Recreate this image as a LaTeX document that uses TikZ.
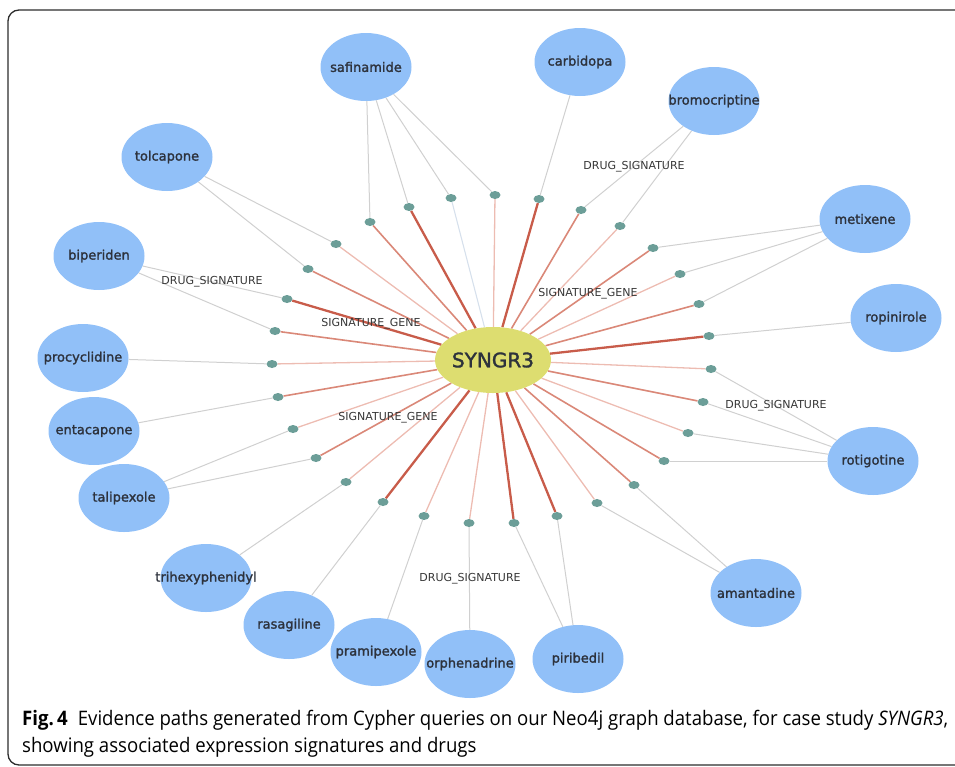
\documentclass[tikz,border=0pt]{standalone}
\usepackage{fontspec}
\usetikzlibrary{shapes.geometric,backgrounds}
\newfontfamily\drugfont[FakeBold=1.6]{DejaVu Sans}
\newfontfamily\labfont{DejaVu Sans}
\newfontfamily\capfont[FakeStretch=0.93]{Open Sans}
\definecolor{drugblue}{RGB}{145,192,248}
\definecolor{geneyellow}{RGB}{221,221,112}
\definecolor{dotteal}{RGB}{108,158,152}
\definecolor{drugtext}{RGB}{45,50,60}
\definecolor{labeltext}{RGB}{55,55,55}
\definecolor{linkgray}{RGB}{208,208,208}
\definecolor{sgthickc}{RGB}{200,92,74}
\definecolor{sgmedc}{RGB}{218,136,120}
\definecolor{sglightc}{RGB}{237,188,178}
\definecolor{sgpalec}{RGB}{214,224,236}
\definecolor{framec}{RGB}{45,45,45}
\tikzset{
  drug/.style={ellipse, fill=drugblue, minimum width=91pt, minimum height=68pt, inner sep=0pt,
    font=\drugfont\fontsize{13pt}{15pt}\selectfont, text=drugtext},
  gene/.style={ellipse, fill=geneyellow, minimum width=89pt, minimum height=66pt, inner sep=0pt,
    font=\drugfont\fontsize{20pt}{22pt}\selectfont, text=drugtext},
  sig/.style={ellipse, fill=dotteal, minimum width=11pt, minimum height=8pt, inner sep=0pt},
  dslink/.style={draw=linkgray, line width=1pt},
  sgthick/.style={draw=sgthickc, line width=2.3pt},
  sgmed/.style={draw=sgmedc, line width=1.6pt},
  sglight/.style={draw=sglightc, line width=1.3pt},
  sgpale/.style={draw=sgpalec, line width=1.1pt},
  elabel/.style={font=\labfont\fontsize{11pt}{13pt}\selectfont, text=labeltext, inner sep=0pt},
  caption/.style={font=\capfont\fontsize{20pt}{23pt}\selectfont, text=black, inner sep=0pt, anchor=base west}
}
\begin{document}
\begin{tikzpicture}[x=1pt, y=-1pt]
\useasboundingbox (0,0) rectangle (955,766);
\clip (0,0) rectangle (955,766);
\draw[framec, line width=1.3pt, rounded corners=11pt] (985,10) -- (8,10) -- (8,765) -- (985,765);

% gene
\node[gene] (syn) at (493,360) {SYNGR3};

% drugs
\node[drug] (saf) at (366,67) {\makebox[0pt]{safinamide}};
\node[drug] (carb) at (580,62) {\makebox[0pt]{carbidopa}};
\node[drug] (bro) at (714,101) {\makebox[0pt]{bromocriptine}};
\node[drug] (met) at (865,219) {\makebox[0pt]{metixene}};
\node[drug] (rop) at (896,318) {\makebox[0pt]{ropinirole}};
\node[drug] (rot) at (873,461) {\makebox[0pt]{rotigotine}};
\node[drug] (ama) at (756,593) {\makebox[0pt]{amantadine}};
\node[drug] (pir) at (578,659) {\makebox[0pt]{piribedil}};
\node[drug] (orp) at (470,664) {\makebox[0pt]{orphenadrine}};
\node[drug] (pra) at (376,652) {\makebox[0pt]{pramipexole}};
\node[drug] (ras) at (289,625) {\makebox[0pt]{rasagiline}};
\node[drug] (tri) at (206,578) {\makebox[0pt]{trihexyphenidyl}};
\node[drug] (tal) at (124,498) {\makebox[0pt]{talipexole}};
\node[drug] (ent) at (94,431) {\makebox[0pt]{entacapone}};
\node[drug] (pro) at (83,358) {\makebox[0pt]{procyclidine}};
\node[drug] (bip) at (99,256) {\makebox[0pt]{biperiden}};
\node[drug] (tol) at (167,157) {\makebox[0pt]{tolcapone}};

% signature dots
\node[sig] (d1) at (370,222) {};
\node[sig] (d2) at (409,207) {};
\node[sig] (d3) at (451,198) {};
\node[sig] (d4) at (495,195) {};
\node[sig] (d5) at (539,199) {};
\node[sig] (d6) at (581,210) {};
\node[sig] (d7) at (620,226) {};
\node[sig] (d8) at (653,248) {};
\node[sig] (d9) at (680,274) {};
\node[sig] (d10) at (699,304) {};
\node[sig] (d11) at (709,336) {};
\node[sig] (d12) at (711,369) {};
\node[sig] (d13) at (703,402) {};
\node[sig] (d14) at (688,433) {};
\node[sig] (d15) at (664,461) {};
\node[sig] (d16) at (634,485) {};
\node[sig] (d17) at (597,503) {};
\node[sig] (d18) at (557,516) {};
\node[sig] (d19) at (514,523) {};
\node[sig] (d20) at (469,523) {};
\node[sig] (d21) at (424,516) {};
\node[sig] (d22) at (383,502) {};
\node[sig] (d23) at (346,482) {};
\node[sig] (d24) at (316,458) {};
\node[sig] (d25) at (293,429) {};
\node[sig] (d26) at (278,397) {};
\node[sig] (d27) at (272,364) {};
\node[sig] (d28) at (275,331) {};
\node[sig] (d29) at (287,299) {};
\node[sig] (d30) at (308,269) {};
\node[sig] (d31) at (336,244) {};

\begin{scope}[on background layer]
% drug -> signature
\draw[dslink] (saf) -- (d1); \draw[dslink] (saf) -- (d2);
\draw[dslink] (saf) -- (d3); \draw[dslink] (saf) -- (d4);
\draw[dslink] (carb) -- (d5);
\draw[dslink] (bro) -- (d6); \draw[dslink] (bro) -- (d7);
\draw[dslink] (met) -- (d8); \draw[dslink] (met) -- (d9); \draw[dslink] (met) -- (d10);
\draw[dslink] (rop) -- (d11);
\draw[dslink] (rot) -- (d12); \draw[dslink] (rot) -- (d13);
\draw[dslink] (rot) -- (d14); \draw[dslink] (rot) -- (d15);
\draw[dslink] (ama) -- (d16); \draw[dslink] (ama) -- (d17);
\draw[dslink] (pir) -- (d18); \draw[dslink] (pir) -- (d19);
\draw[dslink] (orp) -- (d20);
\draw[dslink] (pra) -- (d21);
\draw[dslink] (ras) -- (d22);
\draw[dslink] (tri) -- (d23);
\draw[dslink] (tal) -- (d24); \draw[dslink] (tal) -- (d25);
\draw[dslink] (ent) -- (d26);
\draw[dslink] (pro) -- (d27);
\draw[dslink] (bip) -- (d28); \draw[dslink] (bip) -- (d29);
\draw[dslink] (tol) -- (d30); \draw[dslink] (tol) -- (d31);
% signature -> gene
\draw[sgmed] (syn) -- (d1);
\draw[sgthick] (syn) -- (d2);
\draw[sgpale] (syn) -- (d3);
\draw[sglight] (syn) -- (d4);
\draw[sgthick] (syn) -- (d5);
\draw[sgmed] (syn) -- (d6);
\draw[sglight] (syn) -- (d7);
\draw[sgmed] (syn) -- (d8);
\draw[sglight] (syn) -- (d9);
\draw[sgmed] (syn) -- (d10);
\draw[sgthick] (syn) -- (d11);
\draw[sglight] (syn) -- (d12);
\draw[sgmed] (syn) -- (d13);
\draw[sglight] (syn) -- (d14);
\draw[sgmed] (syn) -- (d15);
\draw[sgmed] (syn) -- (d16);
\draw[sglight] (syn) -- (d17);
\draw[sgthick] (syn) -- (d18);
\draw[sgthick] (syn) -- (d19);
\draw[sglight] (syn) -- (d20);
\draw[sglight] (syn) -- (d21);
\draw[sgthick] (syn) -- (d22);
\draw[sglight] (syn) -- (d23);
\draw[sgmed] (syn) -- (d24);
\draw[sglight] (syn) -- (d25);
\draw[sgmed] (syn) -- (d26);
\draw[sglight] (syn) -- (d27);
\draw[sgmed] (syn) -- (d28);
\draw[sgthick] (syn) -- (d29);
\draw[sgmed] (syn) -- (d30);
\draw[sglight] (syn) -- (d31);
\end{scope}

% edge labels
\node[elabel] (l1) at (634,167) {DRUG\_SIGNATURE};
\node[elabel] (l2) at (588,294) {SIGNATURE\_GENE};
\node[elabel] (l3) at (776,406) {DRUG\_SIGNATURE};
\node[elabel] (l4) at (212,282) {DRUG\_SIGNATURE};
\node[elabel] (l5) at (371,324) {SIGNATURE\_GENE};
\node[elabel] (l6) at (388,418) {SIGNATURE\_GENE};
\node[elabel] (l7) at (470,579) {DRUG\_SIGNATURE};

% caption
\node[caption] (cap1) at (22,725) {\textbf{Fig.\,4}\enspace Evidence paths generated from Cypher queries on our Neo4j graph database, for case study \textit{SYNGR3},};
\node[caption] (cap2) at (22,752) {showing associated expression signatures and drugs};
\end{tikzpicture}
\end{document}
